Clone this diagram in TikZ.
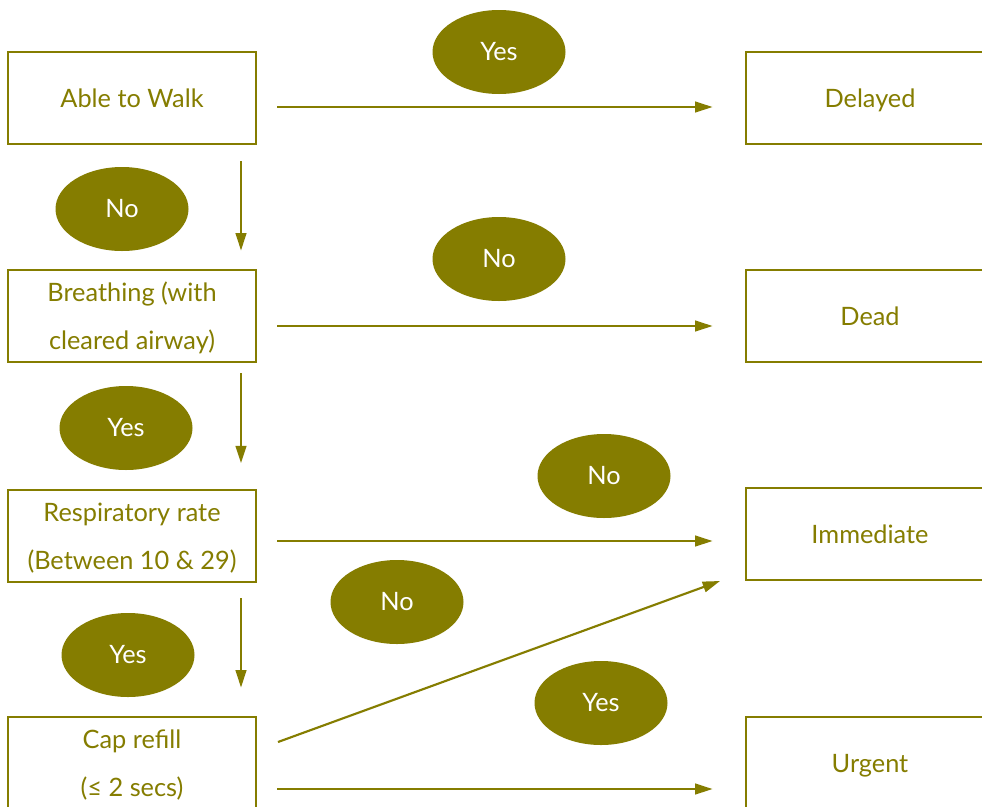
\documentclass[tikz,border=0pt]{standalone}
\usepackage{fontspec}
\setmainfont{Lato}
\usetikzlibrary{arrows.meta,shapes.geometric}
\definecolor{olive}{RGB}{133,125,0}
\newcommand\bt[1]{\begin{tabular}{@{}c@{}}#1\end{tabular}}
\tikzset{
  box/.style={draw=olive, line width=2.2pt, minimum width=186pt, minimum height=69pt,
    inner xsep=0pt, inner ysep=-4pt, text=olive, font=\fontsize{19}{36}\selectfont},
  lab/.style={ellipse, fill=olive, draw=none, minimum width=99.75pt, minimum height=63pt,
    inner sep=0pt, text=white, font=\fontsize{19}{22}\selectfont},
  arr/.style={draw=olive, line width=1.6pt, -{Triangle[length=13pt,width=8pt]}},
}
\begin{document}
\begin{tikzpicture}[x=0.75pt,y=-0.75pt]
\clip (0,0) rectangle (982,807);
\fill[white] (0,0) rectangle (982,807);
% boxes
\node[box] (walk) at (132,98) {\bt{Able to Walk}};
\node[box] (breath) at (132,316) {\bt{Breathing (with\\cleared airway)}};
\node[box] (resp) at (132,536) {\bt{Respiratory rate\\(Between 10 \& 29)}};
\node[box] (cap) at (132,763) {\bt{Cap refill\\(≤ 2 secs)}};
\node[box] (delayed) at (870,98) {\bt{Delayed}};
\node[box] (dead) at (870,316) {\bt{Dead}};
\node[box] (immediate) at (870,534) {\bt{Immediate}};
\node[box] (urgent) at (870,763) {\bt{Urgent}};
% labels
\node[lab] (l1) at (499,52) {Yes};
\node[lab] (l2) at (122,209) {No};
\node[lab] (l3) at (499,259) {No};
\node[lab] (l4) at (126,428) {Yes};
\node[lab] (l5) at (604,476) {No};
\node[lab] (l6) at (397,602) {No};
\node[lab] (l7) at (128,655) {Yes};
\node[lab] (l8) at (601,703) {Yes};
% helper coordinates
\coordinate (vx) at (241,0);
\coordinate (h1) at (0,107);
\coordinate (h2) at (0,326);
\coordinate (h3) at (0,541);
\coordinate (h4) at (0,789);
\coordinate (ds) at (278,742);
\coordinate (de) at (720,581);
% horizontal arrows
\draw[arr, shorten <=15pt, shorten >=24pt] (walk.east |- h1) -- (delayed.west |- h1);
\draw[arr, shorten <=15pt, shorten >=24pt] (breath.east |- h2) -- (dead.west |- h2);
\draw[arr, shorten <=15pt, shorten >=24pt] (resp.east |- h3) -- (immediate.west |- h3);
\draw[arr, shorten <=15pt, shorten >=24pt] (cap.east |- h4) -- (urgent.west |- h4);
% vertical arrows
\draw[arr, shorten <=12pt, shorten >=13.5pt] (walk.south -| vx) -- (breath.north -| vx);
\draw[arr, shorten <=7.5pt, shorten >=19pt] (breath.south -| vx) -- (resp.north -| vx);
\draw[arr, shorten <=11pt, shorten >=21pt] (resp.south -| vx) -- (cap.north -| vx);
% diagonal
\draw[arr] (ds) -- (de);
\end{tikzpicture}
\end{document}
